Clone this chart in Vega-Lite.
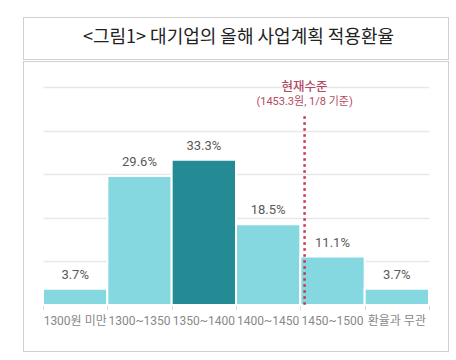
{
  "$schema": "https://vega.github.io/schema/vega-lite/v6.json",
  "padding": {"left": 22, "top": 16, "right": 8, "bottom": 9},
  "background": "white",
  "config": {
    "font": "Roboto, Noto Sans CJK KR"
  },
  "spacing": 0,
  "vconcat": [
    {
      "width": 425,
      "height": 42,
      "view": {"stroke": "#a0a0a0", "strokeWidth": 1, "strokeDash": [1, 1]},
      "data": {"values": [{"t": "<그림1> 대기업의 올해 사업계획 적용환율"}]},
      "mark": {"type": "text", "font": "Noto Sans CJK KR", "fontSize": 18, "fontWeight": 400, "color": "#222", "baseline": "middle", "align": "center", "dx": 3},
      "encoding": {"text": {"field": "t"}}
    },
    {
      "width": 425,
      "height": 290,
      "view": {"stroke": "#a0a0a0", "strokeWidth": 1, "strokeDash": [1, 1]},
      "data": {"values": [
        {"cat": "1300원 미만", "start": 1250, "end": 1300, "mid": 1275, "pct": 3.7, "hl": "n"},
        {"cat": "1300~1350", "start": 1300, "end": 1350, "mid": 1325, "pct": 29.6, "hl": "n"},
        {"cat": "1350~1400", "start": 1350, "end": 1400, "mid": 1375, "pct": 33.3, "hl": "y"},
        {"cat": "1400~1450", "start": 1400, "end": 1450, "mid": 1425, "pct": 18.5, "hl": "n"},
        {"cat": "1450~1500", "start": 1450, "end": 1500, "mid": 1475, "pct": 11.1, "hl": "n"},
        {"cat": "환율과 무관", "start": 1500, "end": 1550, "mid": 1525, "pct": 3.7, "hl": "n"}
      ]},
      "layer": [
        {
          "mark": {"type": "bar", "stroke": "white", "strokeWidth": 2},
          "encoding": {
            "x": {"field": "start", "type": "quantitative",
                  "scale": {"domain": [1250, 1550], "range": [20, 406], "nice": false, "zero": false},
                  "axis": {"title": null, "values": [1250, 1300, 1350, 1400, 1450, 1500, 1550], "labels": false, "grid": false, "offset": -46, "domainColor": "#dcdcdc", "tickColor": "#dcdcdc", "tickSize": 5}},
            "x2": {"field": "end"},
            "y": {"field": "pct", "type": "quantitative",
                  "scale": {"domain": [0, 50], "range": [244, 26], "nice": false},
                  "axis": {"title": null, "values": [10, 20, 30, 40, 50], "labels": false, "ticks": false, "domain": false, "grid": true, "gridColor": "#e8e8e8", "gridWidth": 1.5}},
            "y2": {"datum": 0},
            "color": {"field": "hl", "type": "nominal", "scale": {"domain": ["n", "y"], "range": ["#86d8e0", "#248b94"]}, "legend": null}
          }
        },
        {
          "transform": [{"calculate": "format(datum.pct, '.1f') + '%'", "as": "lbl"}],
          "mark": {"type": "text", "baseline": "bottom", "dy": -7, "fontSize": 13, "color": "#5a5a5a"},
          "encoding": {
            "x": {"field": "mid", "type": "quantitative"},
            "y": {"field": "pct", "type": "quantitative"},
            "text": {"field": "lbl"}
          }
        },
        {
          "mark": {"type": "text", "baseline": "top", "dy": 11, "fontSize": 12, "color": "#888"},
          "encoding": {
            "x": {"field": "mid", "type": "quantitative"},
            "y": {"datum": 0},
            "text": {"field": "cat"}
          }
        },
        {
          "data": {"values": [{"rate": 1453.3, "top": 43.3}]},
          "mark": {"type": "rule", "color": "#c8324f", "strokeWidth": 2.5, "strokeDash": [2.5, 3.5]},
          "encoding": {
            "x": {"field": "rate", "type": "quantitative"},
            "y": {"field": "top", "type": "quantitative"},
            "y2": {"datum": 0}
          }
        },
        {
          "data": {"values": [{"rate": 1453.3, "lv": 50, "txt": "현재수준"}]},
          "mark": {"type": "text", "color": "#b34a63", "fontSize": 12.5, "fontWeight": 500, "baseline": "middle", "align": "center"},
          "encoding": {
            "x": {"field": "rate", "type": "quantitative"},
            "y": {"field": "lv", "type": "quantitative"},
            "text": {"field": "txt"}
          }
        },
        {
          "data": {"values": [{"rate": 1453.3, "lv": 46.6, "txt": "(1453.3원, 1/8 기준)"}]},
          "mark": {"type": "text", "color": "#b34a63", "fontSize": 11, "baseline": "middle", "align": "center"},
          "encoding": {
            "x": {"field": "rate", "type": "quantitative"},
            "y": {"field": "lv", "type": "quantitative"},
            "text": {"field": "txt"}
          }
        }
      ]
    }
  ]
}
